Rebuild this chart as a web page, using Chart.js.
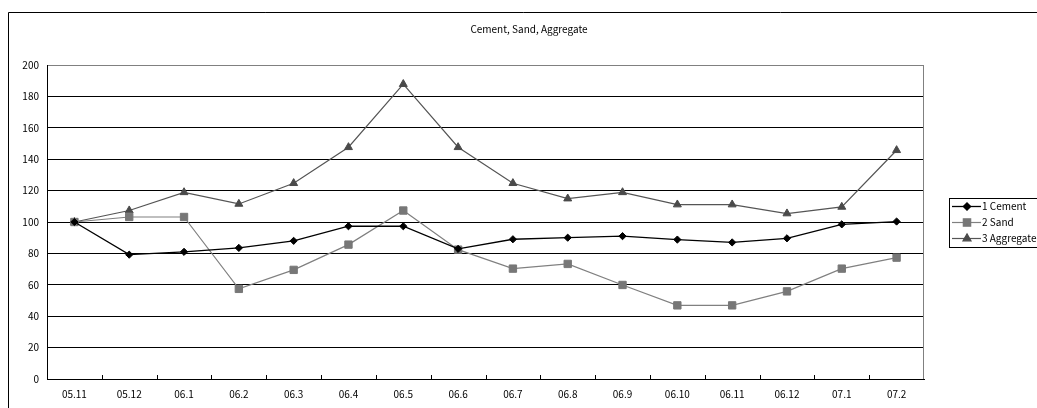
<!DOCTYPE html>
<html>
<head>
<meta charset="utf-8">
<script src="https://cdn.jsdelivr.net/npm/chart.js@4/dist/chart.umd.min.js"></script>
<style>
html,body{margin:0;padding:0;background:#fff;}
canvas{display:block;}
</style>
</head>
<body>
<canvas id="c" width="1037" height="408"></canvas>
<script>
const categories = ["05.11","05.12","06.1","06.2","06.3","06.4","06.5","06.6","06.7","06.8","06.9","06.10","06.11","06.12","07.1","07.2"];
const cement    = [100, 79.2, 81, 83.5, 88, 97.3, 97.3, 82.9, 89, 90, 91, 88.8, 87, 89.6, 98.5, 100.3];
const sand      = [100, 103.2, 103.2, 57.4, 69.5, 85.6, 107.3, 82.4, 70.3, 73.3, 59.9, 46.9, 46.9, 55.8, 70.3, 77.3];
const aggregate = [100, 107.3, 118.9, 111.5, 124.7, 147.6, 187.8, 147.6, 124.7, 114.9, 118.9, 111.1, 111.1, 105.4, 109.6, 145.7];
const seriesNames = ["1 Cement", "2 Sand", "3 Aggregate"];
const titleText = "Cement, Sand, Aggregate";
const yMin = 0, yMax = 200, yStep = 20;

const FONT = '"Noto Sans CJK JP", "Noto Sans", sans-serif';

const framePlugin = {
  id: 'frame',
  beforeDraw(chart) {
    const ctx = chart.ctx;
    ctx.save();
    ctx.fillStyle = '#fff';
    ctx.fillRect(0, 0, chart.width, chart.height);
    ctx.strokeStyle = '#000';
    ctx.lineWidth = 1;
    ctx.beginPath();
    ctx.moveTo(8.5, 420);
    ctx.lineTo(8.5, 12.5);
    ctx.lineTo(1040, 12.5);
    ctx.stroke();
    ctx.fillStyle = '#000';
    ctx.font = '10px ' + FONT;
    ctx.textAlign = 'center';
    ctx.textBaseline = 'middle';
    ctx.fillText(titleText, 529, 29);
    ctx.restore();
  },
  afterDatasetsDraw(chart) {
    const ctx = chart.ctx;
    const a = chart.chartArea;
    const xs = chart.scales.x;
    ctx.save();
    // right border (gray)
    ctx.strokeStyle = '#808080';
    ctx.lineWidth = 1;
    ctx.beginPath();
    ctx.moveTo(Math.round(a.right) - 0.5, a.top);
    ctx.lineTo(Math.round(a.right) - 0.5, a.bottom);
    ctx.stroke();
    // inward ticks between categories
    ctx.strokeStyle = '#000';
    ctx.beginPath();
    for (let i = 1; i < categories.length; i++) {
      const px = Math.round((xs.getPixelForValue(i - 1) + xs.getPixelForValue(i)) / 2) + 0.5;
      ctx.moveTo(px, a.bottom);
      ctx.lineTo(px, a.bottom - 4);
    }
    ctx.stroke();
    // legend
    const lx = 949.5, ly = 198.5, lw = 100, lh = 49;
    ctx.strokeStyle = '#000';
    ctx.strokeRect(lx, ly, lw, lh);
    const rows = [206.5, 222.5, 238.5];
    chart.data.datasets.forEach((ds, i) => {
      const y = rows[i];
      ctx.strokeStyle = ds.borderColor;
      ctx.lineWidth = ds.borderWidth;
      ctx.beginPath();
      ctx.moveTo(952, y);
      ctx.lineTo(981, y);
      ctx.stroke();
      ctx.fillStyle = ds.pointBackgroundColor;
      ctx.strokeStyle = ds.pointBorderColor;
      Chart.helpers.drawPoint(ctx, {pointStyle: ds.pointStyle, radius: ds.pointRadius, rotation: 0, borderWidth: 1}, 967, y);
      ctx.fillStyle = '#000';
      ctx.font = '10px ' + FONT;
      ctx.textAlign = 'left';
      ctx.textBaseline = 'middle';
      ctx.fillText(seriesNames[i], 982, y);
    });
    ctx.restore();
  }
};

new Chart(document.getElementById('c'), {
  type: 'line',
  data: {
    labels: categories,
    datasets: [
      {
        label: seriesNames[0], data: cement,
        borderColor: '#000000', borderWidth: 1.3,
        pointStyle: 'rectRot', pointRadius: 3.6,
        pointBackgroundColor: '#000000', pointBorderColor: '#000000', pointBorderWidth: 1,
        tension: 0
      },
      {
        label: seriesNames[1], data: sand,
        borderColor: '#808080', borderWidth: 1.2,
        pointStyle: 'rect', pointRadius: 5.2,
        pointBackgroundColor: '#777777', pointBorderColor: '#777777', pointBorderWidth: 1,
        tension: 0
      },
      {
        label: seriesNames[2], data: aggregate,
        borderColor: '#555555', borderWidth: 1.2,
        pointStyle: 'triangle', pointRadius: 4.6,
        pointBackgroundColor: '#4a4a4a', pointBorderColor: '#4a4a4a', pointBorderWidth: 1,
        tension: 0
      }
    ]
  },
  options: {
    responsive: false,
    animation: false,
    devicePixelRatio: 1,
    layout: { padding: { left: 0, right: 113, top: 65, bottom: 0 } },
    plugins: {
      legend: { display: false },
      title: { display: false },
      tooltip: { enabled: false }
    },
    events: [],
    scales: {
      x: {
        offset: true,
        grid: { display: false, drawTicks: false },
        border: { display: true, color: '#000', width: 1 },
        ticks: { color: '#000', font: { family: FONT, size: 10 }, padding: 9, maxRotation: 0, autoSkip: false },
        afterFit(s) { s.height = 29; }
      },
      y: {
        min: yMin, max: yMax,
        grid: {
          drawTicks: false,
          color: (c) => (c.tick && c.tick.value === yMax) ? '#808080' : '#000000',
          lineWidth: 1
        },
        border: { display: true, color: '#000', width: 1 },
        ticks: { stepSize: yStep, color: '#000', font: { family: FONT, size: 10 }, padding: 8 },
        afterFit(s) { s.width = 47; }
      }
    }
  },
  plugins: [framePlugin]
});
</script>
</body>
</html>
